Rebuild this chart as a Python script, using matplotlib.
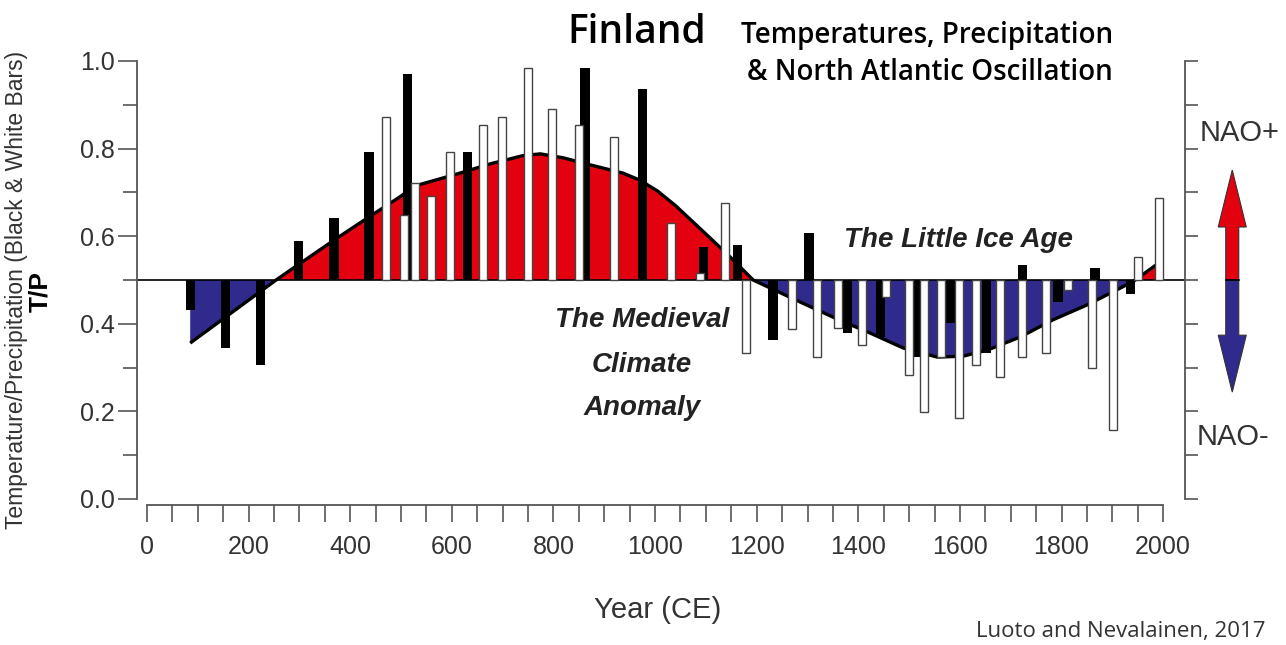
import numpy as np
import matplotlib
matplotlib.use("Agg")
import matplotlib.pyplot as plt
from matplotlib.ticker import MultipleLocator, NullFormatter
from matplotlib.patches import Polygon

# black bars (temperature), values on the T/P scale, baseline 0.5
black_years = [85, 155, 224, 299, 368, 437, 512, 630, 862, 976, 1095, 1163,
               1232, 1303, 1378, 1443, 1516, 1581, 1652, 1724, 1793, 1866, 1935]
black_vals = [0.431, 0.345, 0.306, 0.589, 0.642, 0.792, 0.970, 0.792, 0.984, 0.936, 0.575, 0.580,
              0.363, 0.607, 0.379, 0.370, 0.324, 0.402, 0.333, 0.534, 0.450, 0.527, 0.468]

# white bars (precipitation)
white_years = [470, 506, 528, 559, 596, 661, 699, 750, 797, 850, 919, 1031, 1089, 1138,
               1179, 1270, 1319, 1360, 1407, 1455, 1500, 1530, 1563, 1598, 1632, 1679,
               1722, 1770, 1813, 1860, 1902, 1951, 1992]
white_vals = [0.872, 0.648, 0.721, 0.692, 0.792, 0.854, 0.872, 0.984, 0.890, 0.854, 0.826, 0.630, 0.516, 0.676,
              0.333, 0.388, 0.324, 0.390, 0.352, 0.461, 0.283, 0.199, 0.324, 0.185, 0.306, 0.279,
              0.324, 0.333, 0.477, 0.299, 0.158, 0.553, 0.687]

# NAO reconstruction curve
nao_years = [85, 254, 368, 437, 498, 528, 610, 675, 740, 774, 819, 872, 937, 970, 1005, 1040, 1100,
             1150, 1193, 1285, 1360, 1423, 1488, 1555, 1606, 1654, 1719, 1783, 1850, 1896,
             1935, 1945, 1994]
nao_vals = [0.356, 0.5, 0.591, 0.644, 0.690, 0.715, 0.742, 0.765, 0.784, 0.788, 0.779, 0.763, 0.744, 0.728, 0.703, 0.670, 0.605,
            0.55, 0.5, 0.45, 0.41, 0.379, 0.345, 0.324, 0.326, 0.340, 0.370, 0.409, 0.443, 0.470,
            0.493, 0.50, 0.541]

RED = "#e3000f"
BLUE = "#2f2a8c"
GREY = "#555555"

W, H = 1286, 645
def fx(x):
    return x / W
def fy(y):
    return 1 - y / H

narrow = ["Liberation Sans", "DejaVu Sans"]
myriad = ["Open Sans", "DejaVu Sans"]
plt.rcParams["font.family"] = narrow

fig = plt.figure(figsize=(12.86, 6.45), dpi=100)
ax = fig.add_axes([fx(137), fy(499), fx(1185) - fx(137), fy(61) - fy(499)])
ax.set_xlim(-19.7, 2043)
ax.set_ylim(0, 1)

ny = np.array(nao_years, dtype=float)
nv = np.array(nao_vals)
ax.fill_between(ny, nv, 0.5, where=nv >= 0.5, interpolate=True, color=RED, lw=0, zorder=1)
ax.fill_between(ny, nv, 0.5, where=nv <= 0.5, interpolate=True, color=BLUE, lw=0, zorder=1)
ax.plot(ny, nv, color="black", lw=2.4, zorder=2, solid_capstyle="butt", solid_joinstyle="round")
ax.axhline(0.5, color="black", lw=1.2, zorder=2)

bv = np.array(black_vals)
ax.bar(black_years, bv - 0.5, bottom=0.5, width=18, color="black", zorder=3)
wv = np.array(white_vals)
ax.bar(white_years, wv - 0.5, bottom=0.5, width=16, facecolor="white",
       edgecolor="#444444", linewidth=1.0, zorder=4)

# spines and ticks
ax.spines["top"].set_visible(False)
for s in ["left", "right", "bottom"]:
    ax.spines[s].set_color(GREY)
    ax.spines[s].set_linewidth(1.3)
ax.spines["bottom"].set_position(("outward", 4))
ax.spines["bottom"].set_bounds(0, 2000)
ax.spines["left"].set_bounds(0, 1)
ax.spines["right"].set_bounds(0, 1)

ax.yaxis.set_major_locator(MultipleLocator(0.2))
ax.yaxis.set_minor_locator(MultipleLocator(0.1))
ax.yaxis.set_major_formatter(lambda v, p: f"{v:.1f}")
ax.xaxis.set_major_locator(MultipleLocator(200))
ax.xaxis.set_minor_locator(MultipleLocator(50))
ax.tick_params(axis="y", which="major", length=14, width=1.2, color=GREY,
               labelsize=18, labelcolor="#333333", pad=2)
ax.tick_params(axis="y", which="minor", length=10, width=1.2, color=GREY)
ax.tick_params(axis="x", which="both", length=12, width=1.2, color=GREY,
               labelsize=18, labelcolor="#333333", pad=10)

ax2 = ax.twinx()
ax2.set_ylim(0, 1)
for s in ["top", "left", "bottom", "right"]:
    ax2.spines[s].set_visible(False)
ax2.yaxis.set_major_locator(MultipleLocator(0.1))
ax2.yaxis.set_major_formatter(NullFormatter())
ax2.tick_params(axis="y", which="major", length=9, width=1.2, color=GREY)

# NAO double arrow on the right
c, bw, hw = 2136, 12.8, 27.6
up = Polygon([(c - bw, 0.5), (c - bw, 0.621), (c - hw, 0.621), (c, 0.751),
              (c + hw, 0.621), (c + bw, 0.621), (c + bw, 0.5)],
             closed=True, facecolor=RED, edgecolor="#333333", lw=0.8, clip_on=False, zorder=5)
down = Polygon([(c - bw, 0.5), (c - bw, 0.374), (c - hw, 0.374), (c, 0.244),
                (c + hw, 0.374), (c + bw, 0.374), (c + bw, 0.5)],
               closed=True, facecolor=BLUE, edgecolor="#333333", lw=0.8, clip_on=False, zorder=5)
ax.add_patch(up)
ax.add_patch(down)
ax.plot([c - bw, c + bw], [0.5, 0.5], color="black", lw=1.2, clip_on=False, zorder=6)

# texts
fig.text(fx(567), fy(33), "Finland", family=myriad, fontsize=28, fontweight="semibold",
         ha="left", va="center")
fig.text(fx(1113), fy(35), "Temperatures, Precipitation", family=myriad, fontsize=20,
         fontweight="semibold", ha="right", va="center")
fig.text(fx(1113), fy(73), "& North Atlantic Oscillation", family=myriad, fontsize=20,
         fontweight="semibold", ha="right", va="center")
fig.text(fx(17), fy(290), "Temperature/Precipitation (Black & White Bars)", fontsize=16.5,
         rotation=90, ha="center", va="center", color="#333333")
fig.text(fx(40), fy(291), "T/P", fontsize=19, fontweight="bold", rotation=90,
         ha="center", va="center")
fig.text(fx(658), fy(610), "Year (CE)", fontsize=21, ha="center", va="center", color="#333333")
fig.text(fx(1265), fy(632), "Luoto and Nevalainen, 2017", family=myriad, fontsize=16,
         ha="right", va="center", color="#333333")
for txt, yy in [("The Medieval", 320), ("Climate", 365), ("Anomaly", 408)]:
    fig.text(fx(642), fy(yy), txt, fontsize=20, fontweight="bold", style="italic",
             ha="center", va="center", color="#222222")
fig.text(fx(958), fy(240), "The Little Ice Age", fontsize=20, fontweight="bold",
         style="italic", ha="center", va="center", color="#222222")
fig.text(fx(1240), fy(133), "NAO+", fontsize=21, ha="center", va="center", color="#333333")
fig.text(fx(1233), fy(437), "NAO-", fontsize=21, ha="center", va="center", color="#333333")

fig.savefig("out.png", dpi=100, facecolor="white")
